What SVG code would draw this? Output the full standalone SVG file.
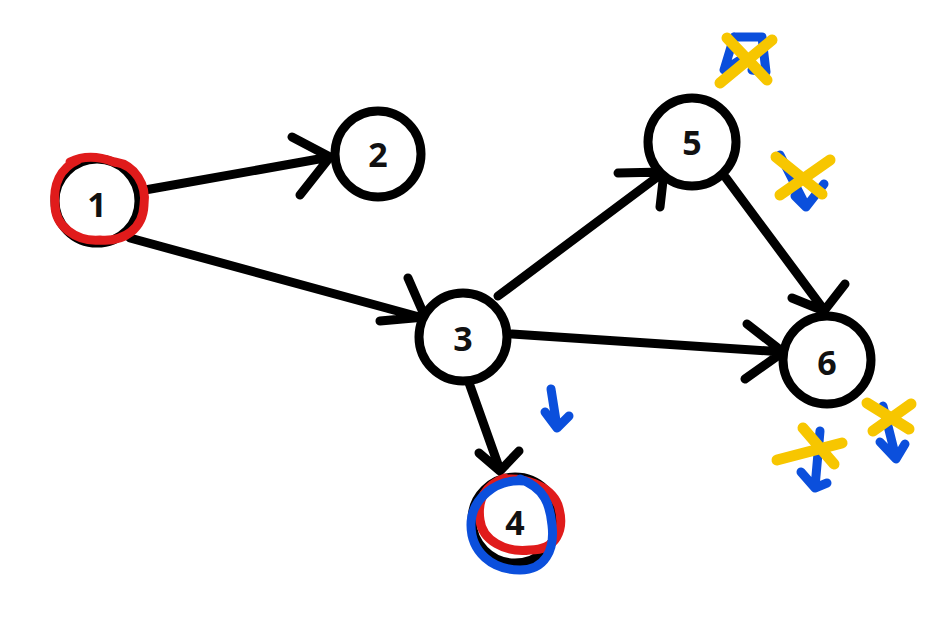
<svg xmlns="http://www.w3.org/2000/svg" width="934" height="628" viewBox="0 0 934 628">
<style>
.node circle{fill:#fff;stroke:#000;stroke-width:9}
.node text{font-family:"Open Sans","Liberation Sans",sans-serif;font-weight:bold;font-size:34px;text-anchor:middle;dominant-baseline:central;fill:#111}
.edge{fill:none;stroke:#000;stroke-width:9;stroke-linecap:round;stroke-linejoin:round}
.red{fill:none;stroke:#e01b1b;stroke-width:9;stroke-linecap:round}
.blue{fill:none;stroke:#0b4fdc;stroke-width:9;stroke-linecap:round;stroke-linejoin:round}
.yel{fill:none;stroke:#f7c600;stroke-width:11;stroke-linecap:round}
</style>
<rect width="934" height="628" fill="#fff"/>
<g id="connectors">
<path class="edge" d="M145,190 L330,157 M292,137 L330,157 L300,195"/>
<path class="edge" d="M130,238 L423,318 M408,278 L425,317 L380,321"/>
<path class="edge" d="M498,296 L664,172 M618,173 L664,172 L660,207"/>
<path class="edge" d="M512,334 L783,352 M747,324 L783,352 L745,379"/>
<path class="edge" d="M726,178 L824,310 M792,298 L824,311 L845,284"/>
<path class="edge" d="M468,380 L500,470 M479,453 L500,471 L519,451"/>
</g>
<g id="n1" class="node"><circle cx="97" cy="201" r="42"/><text x="97" y="204">1</text></g>
<g id="n2" class="node"><circle cx="378" cy="154" r="43"/><text x="378" y="154">2</text></g>
<g id="n3" class="node"><circle cx="463" cy="337" r="44"/><text x="463" y="338">3</text></g>
<g id="n4" class="node"><circle cx="515" cy="520" r="43"/><text x="515" y="522">4</text></g>
<g id="n5" class="node"><circle cx="692" cy="142" r="44"/><text x="692" y="142">5</text></g>
<g id="n6" class="node"><circle cx="827" cy="360" r="44"/><text x="827" y="362">6</text></g>
<g id="marks">
<path class="red" d="M70,162 C95,150 118,165 115,162 C135,165 147,185 144,205 C143,228 125,242 100,240 C75,242 55,225 55,205 C53,185 60,168 78,160"/>
<path class="red" d="M500,480 C522,476 550,485 558,505 C566,530 556,550 530,550 C505,553 482,540 480,520 C477,500 485,485 505,478"/>
<path class="blue" d="M525,481 C495,478 471,500 471,525 C471,552 492,570 520,570 C545,570 555,550 552,525 C550,505 545,488 520,479"/>
<path class="blue" d="M734,37 L762,37 L766,72 L752,70 M734,37 L724,70 L740,60"/>
<path class="yel" d="M727,38 L767,80 M772,40 L720,83"/>
<path class="blue" d="M780,155 L806,206 M795,196 L806,207 L824,184"/>
<path class="yel" d="M776,157 L822,194 M830,160 L780,195"/>
<path class="blue" d="M551,389 L557,427 M545,412 L557,428 L569,416"/>
<path class="blue" d="M820,431 L815,487 M801,472 L815,488 L827,483"/>
<path class="yel" d="M777,460 L842,443 M803,428 L834,464"/>
<path class="blue" d="M883,406 L896,458 M880,442 L896,459 L905,444"/>
<path class="yel" d="M867,403 L909,429 M911,404 L873,431"/>
</g>
</svg>
